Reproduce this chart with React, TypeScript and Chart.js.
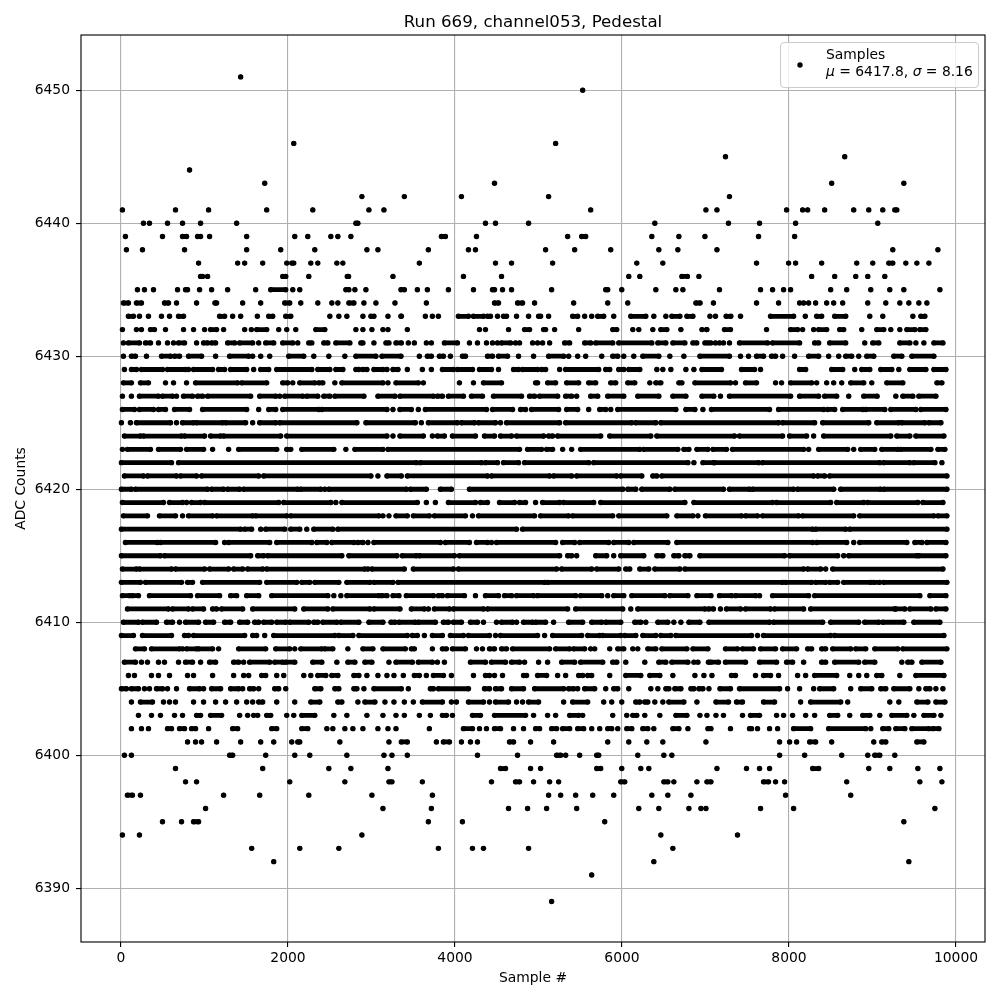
import React, { useEffect, useRef } from "react";
import { Chart, registerables } from "chart.js";

Chart.register(...registerables);

// Each row: sample numbers for one ADC level.
// A plain number is a lone dot; [a, b] is a stretch of touching dots from a to b.
type Item = number | number[];
const xTickValues = [0, 2000, 4000, 6000, 8000, 10000];
const yTickValues = [6390, 6400, 6410, 6420, 6430, 6440, 6450];
const r6451: Item[] = [1433];
const r6450: Item[] = [5529];
const r6446: Item[] = [2069, 5205];
const r6445: Item[] = [7239, 8667];
const r6444: Item[] = [821];
const r6443: Item[] = [1721, 4473, 8511, 9375];
const r6442: Item[] = [2885, 3393, 4077, 5121, 7287];
const r6441: Item[] = [17, 653, 1049, 1745, 2297, 2969, 3149, 5625, 7005, 7137, 7971, 8163, 8223, 8427, 8775, 8955, 9123, [9267, 9291]];
const r6440: Item[] = [269, 341, 557, 737, 953, 1385, [2813, 2837], 4365, 4485, 4881, 6393, 7275, 7647, 8079, 9063];
const r6439: Item[] = [53, 497, [737, 785], [917, 953], 1061, 1505, 2081, 2237, 2513, 2597, 2753, [3837, 3885], 4257, 5349, [5517, 5565], 6357, 6681, 6993, 7635, 8067];
const r6438: Item[] = [65, 257, 761, 1505, 1913, 2321, 2945, 3077, 3681, 4161, 4245, 5085, 5433, 5865, 6441, 6669, 7137, 9243, 9783];
const r6437: Item[] = [929, 1397, 1481, 1697, 1985, [2045, 2069], 2273, 2357, 2585, 2657, 3573, 4485, 4677, 5169, 6177, 6489, 7611, 7995, 8079, 8391, 8811, 9003, [9195, 9243], 9399, 9531, 9675];
const r6436: Item[] = [[953, 977], 1037, [1937, 1973], 2249, [2710, 2725], 3257, 4101, 4557, 6081, 6213, [6717, 6783], 6921, 8271, 8547, 8799, 8943, 9147];
const r6435: Item[] = [197, 281, 389, 677, [773, 797], 941, 1085, 1277, 1613, [1793, 1973], 2057, 2141, [2693, 2729], 2801, 2933, [3353, 3393], 3549, 3669, 3921, 4221, [4449, 4473], 4569, 4677, 5157, [5805, 5829], 5997, 6405, 6645, 6729, 7167, 7659, 7803, 7935, 8019, 8499, 8691, 8979, 9207, 9375, 9807];
const r6434: Item[] = [[29, 89], [185, 245], [521, 569], 665, 905, [1125, 1145], 1457, 1673, [1961, 2021], 2153, 2357, 2525, 2597, [2729, 2789], 2909, 3053, 3281, 3657, [4473, 4521], [4749, 4809], 4953, 5421, 5829, 6069, [6885, 6935], 7095, 7611, 7875, 8127, 8175, 8235, 8319, 8451, 8535, 8643, 8943, 9159, 9327, 9435, 9555, 9651];
const r6433: Item[] = [[89, 149], 221, 329, 485, 581, [689, 749], [1181, 1241], 1337, 1433, 1633, [1769, 1817], [1973, 2033], 2501, 2609, 2705, 2897, [2993, 3029], 3197, [3353, 3357], 3645, 3729, 3801, [4041, 4161], [4221, 4341], [4389, 4425], 4509, [4581, 4617], 4737, 4881, [5001, 5025], 5121, [5409, 5469], 5553, 5637, [5709, 5781], 5901, [6105, 6285], 6381, 6525, [6597, 6693], [6777, 6849], 7053, 7119, [7247, 7303], 7419, [7779, 8055], 8195, [8331, 8391], [8547, 8679], 8967, 9123, 9483, [9579, 9627]];
const r6432: Item[] = [17, 185, 245, [353, 401], 533, 749, 869, 1001, [1073, 1145], 1229, 1481, 1561, [1625, 1745], 1889, 1985, 2093, [2333, 2441], 2813, 2897, 3005, 3137, 3197, 3429, 4293, 4365, 4641, [4833, 4893], [5061, 5085], 5193, 5481, [5889, 5937], 6129, 6201, 6369, [6465, 6537], 6705, 6957, [7011, 7017], [7227, 7299], 7731, [8019, 8103], 8163, 8295, [8355, 8451], [8607, 8655], 8871, [9051, 9135], 9219, 9327, [9411, 9507], [9567, 9639]];
const r6431: Item[] = [29, [89, 221], [293, 353], 449, 557, 629, [689, 761], 905, [989, 1037], [1085, 1133], [1277, 1361], [1421, 1577], 1649, [1733, 1829], [1937, 2057], 2117, [2249, 2285], [2429, 2477], [2573, 2741], [2873, 2897], 3029, [3173, 3209], [3293, 3357], 3441, 3513, 3657, 3717, [3873, 4029], 4173, 4269, 4377, 4449, 4509, [4557, 4665], 4725, 4773, 4929, 4989, 5049, 5133, [5313, 5373], [5553, 5625], [5685, 5889], [5961, 6357], [6429, 6525], [6609, 6753], [6849, 6895], 6993, [7023, 7063], 7119, 7167, 7215, 7287, [7407, 7743], [7803, 8127], [8307, 8355], [8487, 8679], 8907, [9003, 9075], [9327, 9447], 9519, 9615, [9735, 9843]];
const r6430: Item[] = [29, [125, 173], 305, [485, 593], [641, 701], [809, 965], 1133, [1301, 1529], 1577, 1673, 1781, [2009, 2189], 2309, 2489, 2681, [2813, 3053], [3125, 3353], 3573, [3669, 3717], [3813, 3861], 3945, [4089, 4125], [4389, 4449], [4521, 4629], 4761, 4941, [5121, 5301], 5361, 5469, 5565, 5757, [5889, 5949], 6021, 6141, [6249, 6441], 6573, 6741, [6933, 7287], 7419, 7515, [7611, 7695], [7791, 7839], 7923, 8067, [8235, 8355], 8475, 8595, [8679, 8751], 8835, [8931, 9015], [9255, 9351], [9471, 9735]];
const r6429: Item[] = [41, [125, 185], [245, 497], [557, 773], 809, [869, 1097], [1169, 1241], [1313, 1505], 1589, [1673, 1769], [1865, 2285], [2357, 2501], [2573, 2657], [2813, 2849], [2897, 2945], [3029, 3137], 3185, [3257, 3317], 3429, 3609, 3717, [3849, 3981], [4029, 4209], [4293, 4437], 4521, [4701, 4761], [4809, 4989], [5037, 5085], 5253, [5325, 5721], [5805, 5853], [5961, 6021], [6081, 6213], 6417, 6489, 6585, 6765, 6861, [6957, 7191], [7431, 7587], 7659, [8127, 8199], [8511, 8643], 8787, [8871, 8967], [9099, 9231], 9315, [9447, 9639], [9735, 9879]];
const r6428: Item[] = [[29, 125], [233, 329], 533, 629, 785, [893, 1397], [1445, 1745], [1937, 1997], 2057, [2141, 2321], [2369, 2417], 2561, [2645, 3137], 3197, [3293, 3561], 3621, 4053, 4221, [4341, 4557], [4965, 4989], [5109, 5205], [5337, 5481], [5601, 5685], [5865, 5925], [6069, 6153], 6333, [6405, 6465], [6681, 6717], [6873, 7299], 7359, [7479, 7611], 7839, 7911, [8019, 8271], 8331, 8451, 8535, 8631, [8739, 8895], 8991, [9171, 9363], [9771, 9831]];
const r6427: Item[] = [17, 125, [221, 449], [497, 617], 665, [749, 857], [917, 977], [1037, 1553], [1661, 1853], 1901, [1961, 2177], [2225, 2357], [2429, 2501], [2561, 2909], [3077, 3281], [3341, 3741], [3789, 3849], [3921, 4101], [4197, 4329], [4461, 4797], [4893, 4953], [5013, 5229], [5325, 5397], 5457, [5625, 5709], [5829, 6021], [6189, 6441], [6609, 6765], [6957, 7099], 7179, [7287, 8019], [8127, 8355], [8427, 8571], 8715, [8895, 9055], 9279, [9363, 9483], [9555, 9759]];
const r6426: Item[] = [[17, 161], [221, 389], [449, 533], [641, 821], [977, 1505], 1649, [1769, 1853], [1937, 2369], [2405, 3185], 3257, [3341, 3477], 3561, [3645, 4377], [4449, 4689], [4785, 4845], [4917, 5241], [5337, 5469], 5601, [5733, 5805], 5865, [5949, 6645], [6765, 6873], 6969, [7071, 7767], [7875, 8415], [8463, 8547], [8643, 8883], [8919, 9147], [9219, 9519], [9579, 9879]];
const r6425: Item[] = [5, 113, [185, 593], 665, [737, 869], [905, 1217], [1253, 1493], 1577, [1661, 1853], [1901, 2825], [2933, 3525], 3597, [3681, 4029], [4077, 4233], [4281, 4485], 4545, [4617, 5253], [5325, 6117], [6165, 6405], [6465, 7875], [7923, 8307], [8403, 8955], [9051, 9315], [9351, 9627], [9675, 9819]];
const r6424: Item[] = [[41, 233], [269, 725], [761, 1001], [1073, 1193], [1229, 1913], [1985, 3185], 3257, [3341, 3621], 3729, [3789, 3873], [3969, 4245], [4353, 4473], [4545, 4677], [4737, 5061], [5121, 5169], [5229, 5745], [5853, 6345], [6417, 7347], [7407, 7923], [8007, 8211], 8295, [8415, 9219], [9291, 9447], [9519, 9855]];
const r6423: Item[] = [17, [77, 353], [449, 713], [785, 989], 1097, 1289, [1409, 1865], [1985, 2033], [2165, 2549], 2693, [2801, 3137], [3197, 4773], [4869, 5037], [5097, 5169], 5289, 5397, [5505, 6213], [6261, 6669], [6741, 6801], [6897, 7029], [7089, 7251], [7323, 8175], 8235, [8355, 8703], 8775, [8859, 9027], [9111, 9303], [9339, 9699], [9783, 9867]];
const r6422: Item[] = [[5, 605], [689, 3537], [3585, 4317], [4365, 4509], [4581, 4761], [4833, 5601], [5661, 6789], 6861, [6969, 7101], [7107, 7635], [7683, 9087], [9135, 9447], [9495, 9747], 9831];
const r6421: Item[] = [[41, 269], [317, 665], [713, 905], [965, 1649], [1709, 2993], 3077, [3185, 3357], [3429, 4389], [4437, 5133], [5181, 5397], [5457, 5937], [5985, 6237], [6369, 6417], [6477, 8295], [8343, 8427], [8487, 9891]];
const r6420: Item[] = [[5, 125], [173, 1037], [1085, 1229], [1277, 1421], [1469, 2117], [2153, 2393], 2441, [2489, 3417], [3465, 3657], [3825, 3957], [4173, 6009], [6069, 6165], [6237, 6573], [6633, 7215], [7287, 7527], [7563, 8055], [8103, 8535], [8619, 9095], [9135, 9891]];
const r6419: Item[] = [[17, 509], [581, 737], 785, [845, 953], [1001, 1889], [1949, 2513], 2573, [2645, 3549], 3657, 3765, [3921, 4245], [4305, 4389], [4533, 4713], [4773, 4845], 4965, [5049, 5253], [5301, 5661], [5745, 6753], [6861, 7803], [7851, 8499], [8571, 8895], [8943, 9543], [9603, 9843]];
const r6418: Item[] = [[29, 317], [461, 653], 737, [809, 1097], [1145, 1577], [1613, 1985], [2033, 3089], 3137, 3209, [3293, 3429], [3501, 3693], [3753, 4125], 4209, [4281, 4953], [5025, 5361], [5409, 5889], [5961, 6537], [6657, 6849], 6909, [6999, 7431], [7479, 7623], [7683, 8115], [8163, 8775], [8847, 9735], [9783, 9891]];
const r6417: Item[] = [[5, 1433], [1481, 1565], 1673, [1733, 1961], [2033, 2141], 2225, [2309, 2537], [2597, 4737], [4809, 8283], [8319, 8679], [8727, 9891]];
const r6416: Item[] = [[53, 433], [473, 1133], 1241, [1289, 1781], [1865, 2285], [2345, 2465], [2525, 2789], [2837, 2897], 2957, [3029, 3825], [3885, 4173], [4257, 4389], 4437, [4497, 5205], [5289, 5433], [5493, 5841], [5901, 6081], [6141, 6549], [6657, 8283], [8331, 8691], 8775, [8847, 9411], [9507, 9591], [9651, 9879]];
const r6415: Item[] = [[5, 473], [521, 1553], [1637, 1709], [1757, 2645], [2729, 3305], [3369, 3537], [3573, 3993], [4053, 5253], [5349, 5397], 5457, [5685, 5817], 5901, [5985, 6261], [6417, 6489], [6621, 6681], [6753, 6813], [6933, 7947], [8007, 8583], 8655, [8715, 9531], [9555, 9879]];
const r6414: Item[] = [[17, 185], [221, 605], [653, 1001], [1061, 1289], [1349, 1457], [1517, 1697], [1745, 2921], 2957, [3005, 3393], [3501, 3981], [4041, 5217], [5277, 5637], [5697, 5961], [6045, 6093], [6213, 6321], [6393, 6693], [6753, 8175], [8223, 8379], 8439, [8523, 9843]];
const r6413: Item[] = [[5, 233], [293, 725], [797, 857], [977, 1661], [1745, 2105], [2165, 2261], [2321, 2609], [2705, 2981], [3029, 3257], [3317, 5073], [5109, 7923], [7959, 8271], [8319, 8439], [8487, 8583], [8655, 8979], [9015, 9087], [9135, 9891]];
const r6412: Item[] = [[17, 101], [137, 209], [341, 833], [917, 1181], [1313, 1385], [1505, 1649], [1805, 2477], 2549, 2633, [2705, 3089], [3125, 3185], [3257, 3329], [3417, 3741], [3801, 3849], [3909, 4113], 4245, [4365, 4521], [4593, 4677], [4737, 4941], [4989, 5445], [5505, 5757], 5829, [5901, 6021], [6117, 6513], [6573, 6789], [6897, 7065], [7167, 7311], [7359, 7599], 7647, [7803, 8235], [8307, 9567], [9687, 9879]];
const r6411: Item[] = [[77, 569], [617, 809], [857, 989], [1097, 1145], [1205, 1457], [1577, 2081], [2189, 2477], [2537, 2981], [3029, 3341], [3477, 3633], 3681, [3753, 3933], [3981, 4341], [4389, 5349], [5445, 6009], 6105, [6189, 6993], [7035, 7095], 7179, [7251, 7419], [7479, 7779], [7827, 8175], [8259, 9267], [9279, 9387], [9447, 9699], [9759, 9879]];
const r6410: Item[] = [[29, 209], [257, 425], [545, 617], 701, [773, 929], [1013, 1109], [1241, 1313], [1421, 1517], [1601, 1649], [1709, 1805], [1865, 1973], [2021, 2249], [2309, 2357], [2417, 2585], [2633, 2849], [2969, 3137], [3233, 3281], [3329, 3525], [3561, 3765], [3861, 3921], [3981, 4077], [4185, 4269], 4341, 4497, [4557, 4689], 4737, [4821, 4929], [4965, 5085], 5181, [5361, 5529], [5637, 5757], [5805, 5985], [6153, 6225], 6285, [6429, 6549], 6621, 6705, [6801, 6933], [7041, 7767], [7815, 8403], [8499, 8835], [8907, 9075], [9123, 9375], [9495, 9807]];
const r6409: Item[] = [[5, 149], [257, 605], [761, 809], [869, 1481], [1577, 1625], 1721, [1829, 2561], [2609, 2777], [2849, 3429], [3489, 3549], 3633, [3729, 3849], [3945, 4101], [4161, 4413], 4485, [4545, 4989], 5073, [5169, 5517], [5589, 5733], [5769, 5985], [6033, 6165], [6249, 6405], [6465, 6585], [6645, 7551], 7623, [7695, 8499], [8547, 9855]];
const r6408: Item[] = [[173, 281], [365, 701], 737, [785, 905], [929, 1097], 1169, [1409, 1733], [1853, 2021], 2081, [2153, 2405], [2441, 2537], 2717, [2897, 3017], [3137, 3405], [3477, 3513], 3729, [3849, 3897], [3969, 4125], 4257, 4329, [4413, 4473], [4557, 4617], [4689, 5133], [5205, 5373], [5421, 5553], 5625, 5673, 5853, [5949, 6021], 6129, 6189, [6309, 6405], [6477, 6777], [6849, 7029], [7239, 7383], [7443, 7575], [7659, 7839], [7923, 8091], [8223, 8271], [8391, 8439], [8523, 8739], [8799, 8919], [9027, 9303], [9363, 9891]];
const r6407: Item[] = [[41, 173], 245, 317, 449, 521, 689, [773, 857], 953, [1061, 1133], [1349, 1409], 1469, [1541, 1781], [1841, 1937], [1973, 2081], [2297, 2405], 2585, [2717, 2801], [2921, 3005], 3209, [3293, 3489], [3561, 3729], 3789, 3873, [4185, 4365], [4437, 4605], [4677, 4773], 4833, 5001, 5109, [5277, 5433], [5505, 5769], [5889, 5937], 6045, 6273, [6441, 6525], [6597, 6789], 6861, 6909, 7065, [7035, 7155], [7239, 7479], [7647, 7851], [7971, 8043], 8175, [8391, 8439], [8547, 8835], [8907, 9027], 9351, [9423, 9471], [9591, 9819]];
const r6406: Item[] = [89, 161, 365, 449, 581, 797, 869, 1097, 1349, 1469, 1529, [1685, 1733], 1865, 1949, 2189, 2273, [2357, 2453], [2525, 2597], [2789, 2849], 2945, 3077, 3185, 3269, 3381, [3513, 3573], 3657, [3741, 3861], 3957, 4221, [4365, 4413], 4473, 4569, [4821, 4857], [4989, 5097], 5229, 5325, [5481, 5529], [5589, 5637], 5853, [6045, 6225], [6333, 6453], 6609, 6873, 6981, 7077, [7311, 7359], 7599, [7695, 7779], 7875, 8103, 8199, [8307, 8571], 8727, 8835, 8931, [9051, 9111], 9327, [9519, 9855]];
const r6405: Item[] = [[5, 65], [125, 209], 281, 341, [425, 497], 557, 665, [821, 941], 989, [1085, 1193], [1313, 1409], 1457, [1541, 1589], 1649, [1841, 1889], 1973, [2321, 2393], [2561, 2609], [2789, 2825], 2909, [3029, 3357], 3441, [3705, 3741], [3801, 4161], [4353, 4413], [4485, 4557], [4677, 4821], [4953, 5301], [5361, 5421], 5469, [5553, 5673], 5805, [5901, 5949], 6081, 6345, 6429, [6525, 6561], [6633, 6705], [6825, 6861], [6921, 6969], 7041, [7173, 7299], [7407, 7887], 7983, 8127, 8295, [8367, 8535], 8739, [8859, 8991], [9099, 9159], [9255, 9447], 9555, [9639, 9687], 9759, 9843];
const r6404: Item[] = [125, [233, 377], 509, 581, 653, 869, 989, 1133, 1253, 1385, 1505, 1577, [1649, 1697], 1865, 2081, [2273, 2381], [2597, 2645], 2837, [2921, 3041], 3161, 3269, 3393, 3501, [3609, 3849], 3957, 4017, [4161, 4341], 4413, [4485, 4641], 4737, 4809, [4881, 5001], 5301, [5409, 5589], 5781, 5877, 5997, [6165, 6213], [6273, 6309], 6393, 6489, [6561, 6741], 6897, [7125, 7275], [7371, 7443], [7695, 7827], 8139, [8259, 8619], 8703, 9207, 9315, [9531, 9663], [9759, 9867]];
const r6403: Item[] = [209, 365, 473, 641, 737, [905, 953], [1073, 1205], 1421, 1517, 1589, 1637, [1745, 1793], 1985, 2069, [2165, 2321], 2549, 2705, 2945, 3137, 3293, 3393, 3573, 3705, [3849, 3897], 3969, [4209, 4305], [4473, 4845], 4941, 5109, 5205, [5373, 5481], 5529, 5889, 6057, [6129, 6177], 6273, 6453, [6645, 6777], 6933, 7017, 7125, 7215, 7443, [7539, 7647], 7851, 7935, 8043, 8199, 8307, [8487, 8583], 8727, [8883, 8967], 9087, [9231, 9411], 9495, [9615, 9735], 9819];
const r6402: Item[] = [125, 245, 329, [557, 605], [701, 761], [845, 893], 1049, [1337, 1397], [1805, 1865], [2165, 2237], 2465, 2537, 2681, 2777, 2897, 3077, 3197, 3293, 3693, [4101, 4209], 4293, 4377, [4473, 4545], 4701, 4821, [4965, 5013], [5157, 5217], [5289, 5373], [5469, 5541], 5637, 5733, [5829, 5877], 5949, [6057, 6117], [6249, 6309], 6381, [6609, 6681], 6789, [7029, 7065], 7299, [7527, 7551], 7623, 7767, 7863, [8055, 8259], [8475, 8919], 8979, [9123, 9195], [9279, 9387], [9471, 9675], [9723, 9795]];
const r6401: Item[] = [797, 893, 965, 1145, 1433, 1673, 1829, 2045, [2117, 2141], 2621, 3209, [3357, 3429], 3777, [3861, 3933], 4077, 4185, 4269, [4653, 4701], 4905, 5181, 5829, 6081, 6297, 6489, 7005, 7887, 8007, 8091, [8247, 8319], 8511, 9015, [9111, 9159], [9531, 9615]];
const r6400: Item[] = [41, 125, [1301, 1337], 1733, 2081, 2261, 2705, 3149, 3245, 3429, 4269, 4749, [5217, 5265], 5325, 5493, [5697, 5721], 6189, 6501, 6597, 7887, 8187, 8631, 8943, [9027, 9087], 9267];
const r6399: Item[] = [653, 1697, 2489, 2753, 3197, [4545, 4605], 4905, 5025, [5697, 5745], 5997, 6225, 6321, 7137, 7491, 7647, 7767, [8283, 8355], 8955, 9207, 9543, 9807];
const r6398: Item[] = [773, 905, 2021, 2681, [3209, 3245], 3609, 4437, [4725, 4773], 4941, 5133, 5241, [5985, 6033], [6501, 6549], 6621, 6897, [7017, 7065], [7695, 7755], 7839, 7947, 8691, 9567, 9831];
const r6397: Item[] = [[77, 137], 233, 1229, 1661, 2249, 3005, 3729, 5121, 5265, 5445, 5649, 5901, 6357, 6549, 6825, 7959, 8739];
const r6396: Item[] = [1013, 3137, 3717, 4641, 4869, 5097, 5457, 6201, 6441, 6801, 6945, 7005, 7659, 8055, 9747];
const r6395: Item[] = [497, 725, [869, 929], 3681, 4089, 5793, 9375];
const r6394: Item[] = [17, 221, 2885, 6465, 7383];
const r6393: Item[] = [1565, 2141, 2609, 3801, 4209, 4341, 4881, 6609];
const r6392: Item[] = [1829, 6381, 9435];
const r6391: Item[] = [5637];
const r6389: Item[] = [5157];

const rows: [number, Item[]][] = [
  [6451, r6451], [6450, r6450], [6446, r6446], [6445, r6445], [6444, r6444], [6443, r6443], [6442, r6442],
  [6441, r6441], [6440, r6440], [6439, r6439], [6438, r6438], [6437, r6437], [6436, r6436], [6435, r6435],
  [6434, r6434], [6433, r6433], [6432, r6432], [6431, r6431], [6430, r6430], [6429, r6429], [6428, r6428],
  [6427, r6427], [6426, r6426], [6425, r6425], [6424, r6424], [6423, r6423], [6422, r6422], [6421, r6421],
  [6420, r6420], [6419, r6419], [6418, r6418], [6417, r6417], [6416, r6416], [6415, r6415], [6414, r6414],
  [6413, r6413], [6412, r6412], [6411, r6411], [6410, r6410], [6409, r6409], [6408, r6408], [6407, r6407],
  [6406, r6406], [6405, r6405], [6404, r6404], [6403, r6403], [6402, r6402], [6401, r6401], [6400, r6400],
  [6399, r6399], [6398, r6398], [6397, r6397], [6396, r6396], [6395, r6395], [6394, r6394], [6393, r6393],
  [6392, r6392], [6391, r6391], [6389, r6389],
];

const FONT = '"DejaVu Sans"';
const GRID = "#b0b0b0";

function buildPoints() {
  const pts: { x: number; y: number }[] = [];
  for (const [level, items] of rows) {
    for (const item of items) {
      if (Array.isArray(item)) {
        pts.push({ x: item[0], y: level }, { x: item[1], y: level });
      } else {
        pts.push({ x: item, y: level });
      }
      pts.push({ x: NaN, y: NaN });
    }
  }
  return pts;
}

const framePlugin = {
  id: "frame",
  afterDraw(chart: any) {
    const { ctx, chartArea: a } = chart;
    ctx.save();
    ctx.strokeStyle = "#000";
    ctx.lineWidth = 1.11;
    ctx.strokeRect(a.left, a.top, a.right - a.left, a.bottom - a.top);

    // legend box, top right of the axes
    const lx = 780.5, ly = 42.5, lw = 198, lh = 45, rad = 4;
    ctx.beginPath();
    ctx.roundRect(lx, ly, lw, lh, rad);
    ctx.fillStyle = "rgba(255,255,255,0.8)";
    ctx.fill();
    ctx.strokeStyle = "#cccccc";
    ctx.lineWidth = 1.11;
    ctx.stroke();
    ctx.fillStyle = "#000";
    ctx.beginPath();
    ctx.arc(800, 65, 2.7, 0, Math.PI * 2);
    ctx.fill();
    ctx.textAlign = "left";
    ctx.textBaseline = "alphabetic";
    const normal = `13.89px ${FONT}`;
    const italic = `italic 13.89px ${FONT}`;
    ctx.font = normal;
    ctx.fillText("Samples", 826, 59);
    let x = 826;
    const parts: [string, string][] = [
      ["μ", italic],
      [" = 6417.8, ", normal],
      ["σ", italic],
      [" = 8.16", normal],
    ];
    for (const [t, f] of parts) {
      ctx.font = f;
      ctx.fillText(t, x, 76);
      x += ctx.measureText(t).width;
    }
    ctx.restore();
  },
};

export default function App() {
  const ref = useRef<HTMLCanvasElement>(null);
  useEffect(() => {
    if (!ref.current) return;
    const chart = new Chart(ref.current, {
      type: "scatter",
      data: {
        datasets: [
          {
            label: "Samples",
            data: buildPoints(),
            showLine: true,
            spanGaps: false,
            borderColor: "#000",
            backgroundColor: "#000",
            borderWidth: 4.8,
            borderCapStyle: "round",
            borderJoinStyle: "round",
            pointRadius: 2.7,
            pointBorderWidth: 0,
            pointBackgroundColor: "#000",
          } as any,
        ],
      },
      options: {
        responsive: false,
        animation: false,
        events: [],
        layout: { padding: { top: 0, right: 15, bottom: 0, left: 0 } },
        plugins: {
          legend: { display: false },
          tooltip: { enabled: false },
          title: {
            display: true,
            text: "Run 669, channel053, Pedestal",
            color: "#000",
            fullSize: false,
            font: { family: FONT, size: 16.67, weight: "normal", lineHeight: 1.2 },
            padding: { top: 13, bottom: 2 },
          } as any,
        },
        scales: {
          x: {
            type: "linear",
            min: -479,
            max: 10347,
            afterFit(s: any) { s.height = 58; },
            afterBuildTicks(s: any) { s.ticks = xTickValues.map((value) => ({ value })); },
            title: {
              display: true,
              text: "Sample #",
              color: "#000",
              font: { family: FONT, size: 13.89, lineHeight: 1.2 },
              padding: { top: 0, bottom: 13.6 },
            },
            ticks: {
              autoSkip: false,
              color: "#000",
              maxRotation: 0,
              padding: 3,
              font: { family: FONT, size: 13.89 },
              callback: (v: any) => String(v),
            },
            grid: { color: GRID, lineWidth: 1.11, tickColor: "#000", tickWidth: 1.11, tickLength: 5 },
            border: { display: false },
          },
          y: {
            type: "linear",
            min: 6385.96,
            max: 6454.15,
            afterFit(s: any) { s.width = 81; },
            afterBuildTicks(s: any) { s.ticks = yTickValues.map((value) => ({ value })); },
            title: {
              display: true,
              text: "ADC Counts",
              color: "#000",
              font: { family: FONT, size: 13.89, lineHeight: 1.2 },
              padding: { top: 13.5, bottom: 0 },
            },
            ticks: {
              autoSkip: false,
              color: "#000",
              padding: 6,
              font: { family: FONT, size: 13.89 },
              callback: (v: any) => String(v),
            },
            grid: { color: GRID, lineWidth: 1.11, tickColor: "#000", tickWidth: 1.11, tickLength: 5 },
            border: { display: false },
          },
        },
      } as any,
      plugins: [framePlugin],
    });
    return () => chart.destroy();
  }, []);
  return (
    <canvas
      ref={ref}
      width={1000}
      height={1000}
      style={{ position: "absolute", left: 0, top: 0, width: 1000, height: 1000 }}
    />
  );
}
